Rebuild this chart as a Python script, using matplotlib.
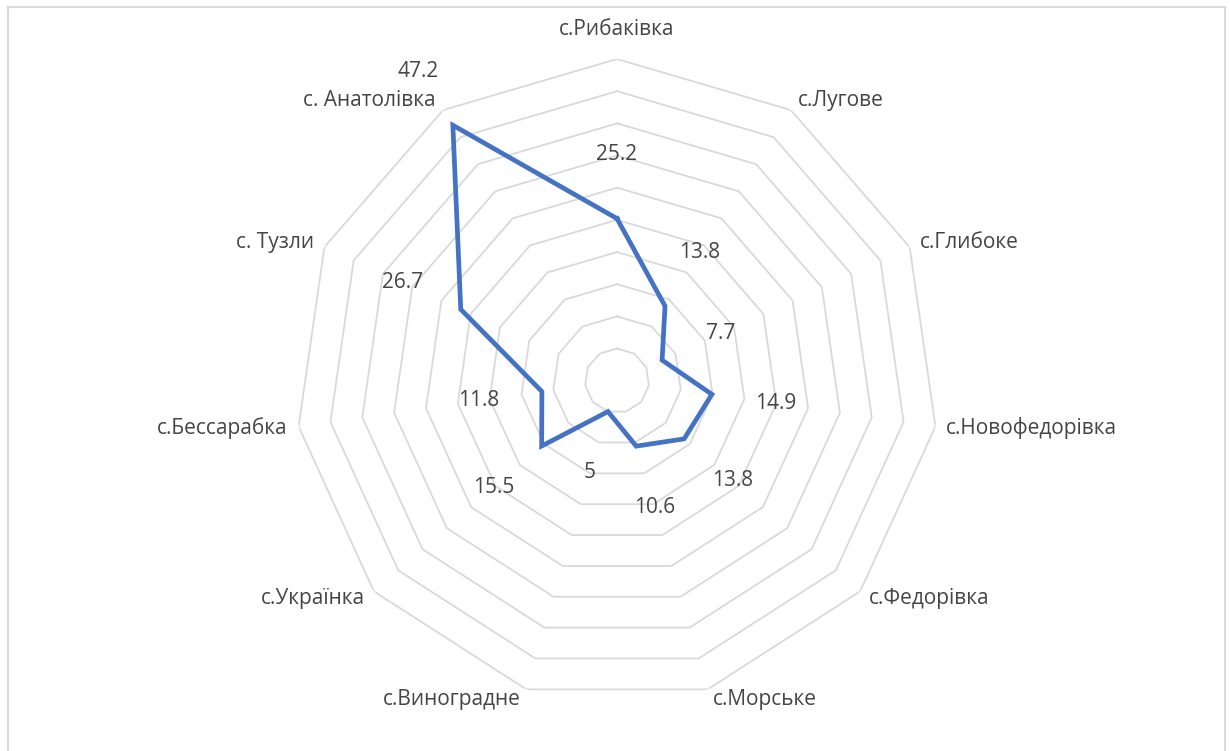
import numpy as np
import matplotlib
matplotlib.use('Agg')
import matplotlib.pyplot as plt
from matplotlib.patches import Rectangle

# data
villages = ['с.Рибаківка', 'с.Лугове', 'с.Глибоке', 'с.Новофедорівка', 'с.Федорівка',
            'с.Морське', 'с.Виноградне', 'с.Українка', 'с.Бессарабка', 'с. Тузли',
            'с. Анатолівка']
values = [25.2, 13.8, 7.7, 14.9, 13.8, 10.6, 5, 15.5, 11.8, 26.7, 47.2]
value_labels = ['25.2', '13.8', '7.7', '14.9', '13.8', '10.6', '5', '15.5', '11.8', '26.7', '47.2']
ring_levels = [5, 10, 15, 20, 25, 30, 35, 40, 45, 50]

plt.rcParams['font.family'] = ['Open Sans', 'DejaVu Sans']
text_color = '#454545'
grid_color = '#d9d9d9'
line_color = '#4472C4'

fig = plt.figure(figsize=(12.3, 7.51), dpi=100)
ax = fig.add_axes([0.2401, 0.0647, 0.5231, 0.8567], projection='polar')
ax.set_theta_zero_location('N')
ax.set_theta_direction(-1)
ax.set_ylim(0, max(ring_levels))
ax.grid(False)
ax.spines['polar'].set_visible(False)
ax.set_xticks([])
ax.set_yticks([])
ax.patch.set_alpha(0)

n = len(villages)
theta = np.linspace(0, 2 * np.pi, n, endpoint=False)
theta_closed = np.append(theta, theta[0])

# polygon rings
for lvl in ring_levels:
    ax.plot(theta_closed, [lvl] * (n + 1), color=grid_color, lw=1.3, zorder=1)

# series
vals_closed = np.append(values, values[0])
ax.plot(theta_closed, vals_closed, color=line_color, lw=3.4, solid_joinstyle='miter', zorder=3)

# data labels, pushed outwards along the spoke
for t, v, lab in zip(theta, values, value_labels):
    ax.annotate(lab, xy=(t, v), xytext=(64 * np.sin(t), 64 * np.cos(t)),
                textcoords='offset pixels', ha='center', va='center',
                fontsize=15, color=text_color, zorder=4)

# category labels
for t, name in zip(theta, villages):
    s, c = np.sin(t), np.cos(t)
    if s > 0.05:
        ha = 'left'
        dx = 3 + 8 * abs(s)
    elif s < -0.05:
        ha = 'right'
        dx = -(3 + 8 * abs(s))
    else:
        ha = 'center'
        dx = 0
    dy = 11 * c
    if abs(s) < 0.05:
        dy = 30
    ax.annotate(name, xy=(t, max(ring_levels)), xytext=(dx, dy),
                textcoords='offset pixels', ha=ha, va='center',
                fontsize=15, color=text_color, annotation_clip=False)

# chart frame
fig.patches.append(Rectangle((8 / 1230, -0.02), 1217 / 1230, 1 - 7 / 751 + 0.02,
                             transform=fig.transFigure, fill=False,
                             edgecolor=grid_color, lw=1.5))

fig.savefig('out.png', dpi=100)
